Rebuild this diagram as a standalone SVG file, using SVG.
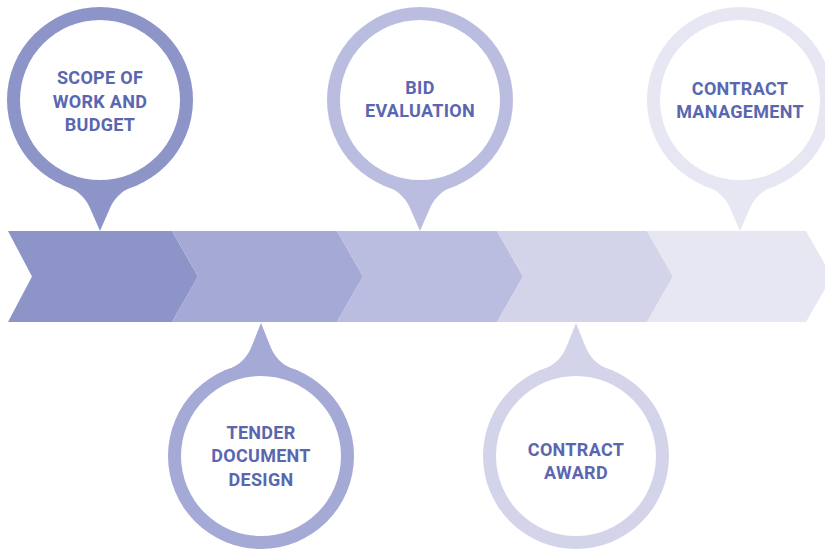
<svg xmlns="http://www.w3.org/2000/svg" width="825" height="551" viewBox="0 0 825 551">
<style>
.lbl{font-family:Roboto,"Liberation Sans",sans-serif;font-weight:700;font-size:18px;fill:#5a67b0;text-anchor:middle;letter-spacing:0.3px}
.inner{fill:#ffffff}
</style>
<defs>
<path id="pinUp" d="M-38,85 Q-18,90 -10,108 L0,131 L10,108 Q18,90 38,85 Z"/>
<path id="pinDown" d="M-38,-85 Q-18,-90 -10,-108 L0,-133 L10,-108 Q18,-90 38,-85 Z"/>
</defs>
<rect width="825" height="551" fill="#ffffff"/>
<g id="connectors">
<polygon points="8,231 172,231 198,276.5 172,322 8,322 32,276.5" fill="#8c94c8"/>
<polygon points="172,231 337,231 363,276.5 337,322 172,322 198,276.5" fill="#a5a9d5"/>
<polygon points="337,231 497,231 523,276.5 497,322 337,322 363,276.5" fill="#bbbde0"/>
<polygon points="497,231 647,231 673,276.5 647,322 497,322 523,276.5" fill="#d3d4ea"/>
<polygon points="647,231 806,231 832,276.5 806,322 647,322 673,276.5" fill="#e7e7f3"/>
</g>
<g id="scope" transform="translate(100,100)">
<circle r="93" fill="#8c94c8"/><use href="#pinUp" fill="#8c94c8"/><circle r="80" class="inner"/>
<text class="lbl" y="-16">SCOPE OF</text>
<text class="lbl" y="7.5">WORK AND</text>
<text class="lbl" y="31">BUDGET</text>
</g>
<g id="tender" transform="translate(261,456)">
<circle r="93" fill="#a5a9d5"/><use href="#pinDown" fill="#a5a9d5"/><circle r="80" class="inner"/>
<text class="lbl" y="-17">TENDER</text>
<text class="lbl" y="6">DOCUMENT</text>
<text class="lbl" y="30">DESIGN</text>
</g>
<g id="bid" transform="translate(420,100)">
<circle r="93" fill="#bbbde0"/><use href="#pinUp" fill="#bbbde0"/><circle r="80" class="inner"/>
<text class="lbl" y="-6">BID</text>
<text class="lbl" y="17">EVALUATION</text>
</g>
<g id="award" transform="translate(576,456)">
<circle r="93" fill="#d3d4ea"/><use href="#pinDown" fill="#d3d4ea"/><circle r="80" class="inner"/>
<text class="lbl" y="0">CONTRACT</text>
<text class="lbl" y="23">AWARD</text>
</g>
<g id="management" transform="translate(740,100)">
<circle r="93" fill="#e7e7f3"/><use href="#pinUp" fill="#e7e7f3"/><circle r="80" class="inner"/>
<text class="lbl" y="-5">CONTRACT</text>
<text class="lbl" y="18">MANAGEMENT</text>
</g>
</svg>
